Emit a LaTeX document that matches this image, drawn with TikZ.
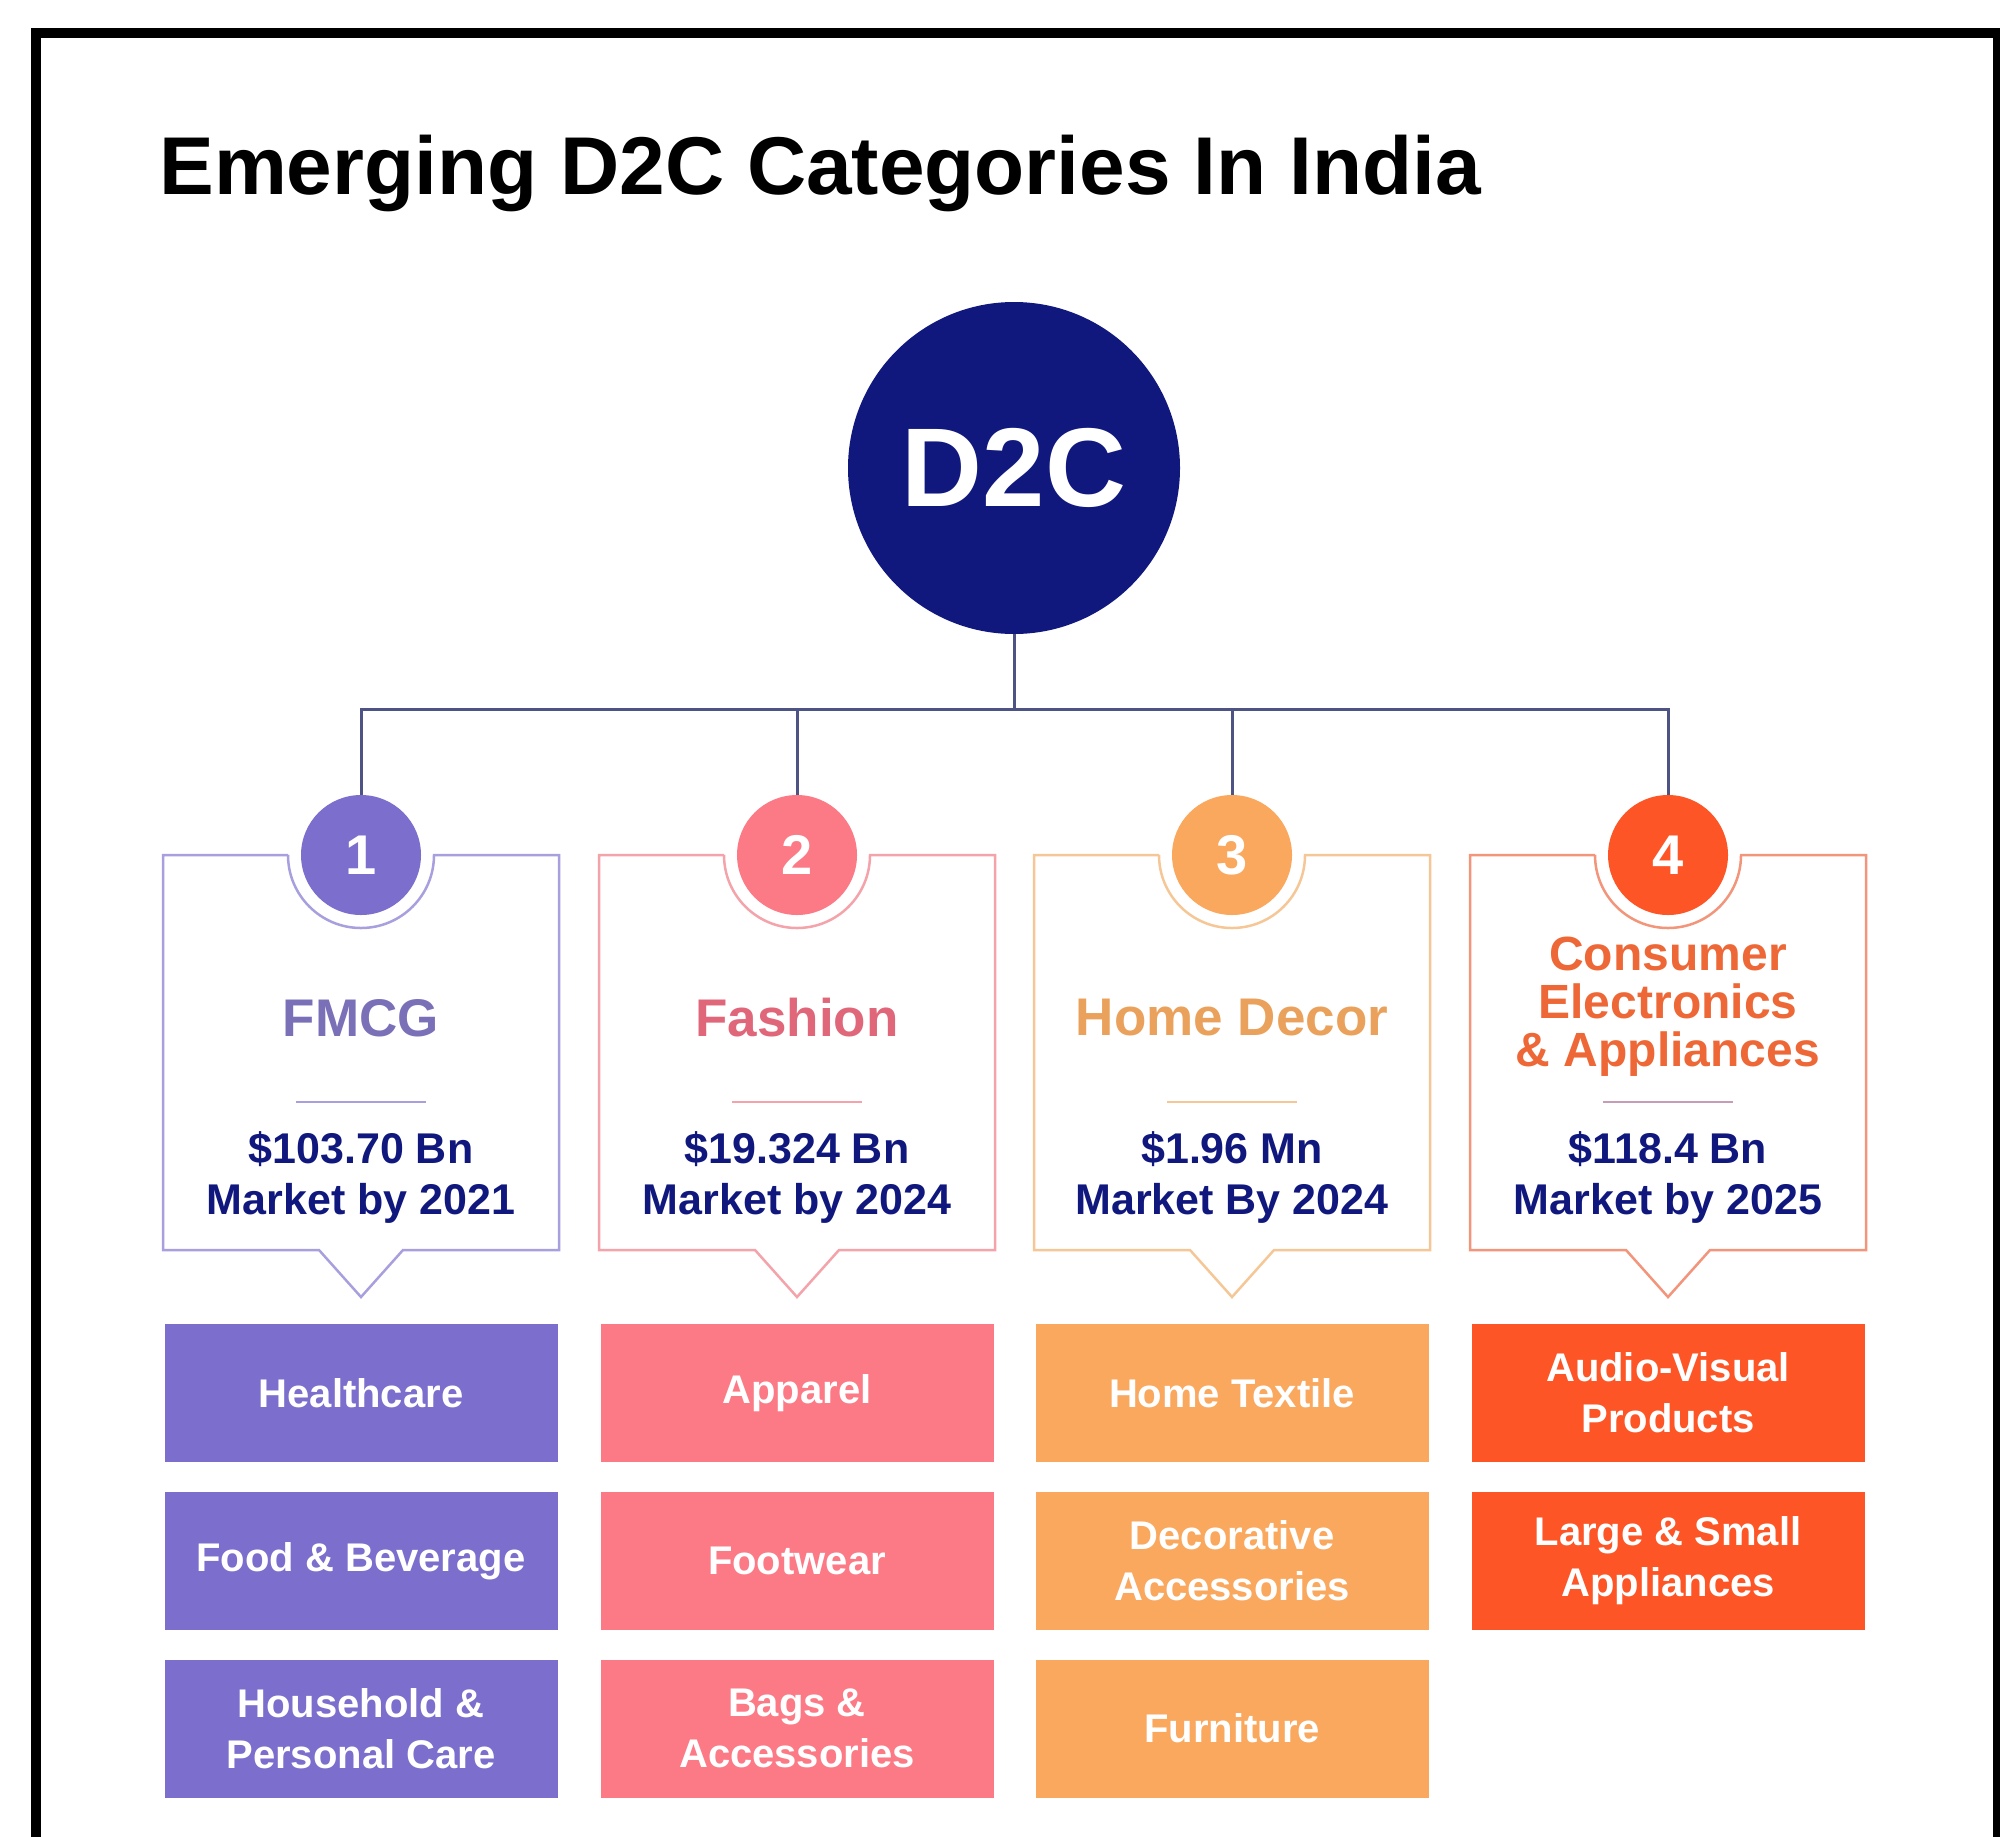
\documentclass[tikz,border=0pt]{standalone}
\usepackage{fontspec}
\setmainfont{Liberation Sans}
\usetikzlibrary{positioning}
\definecolor{navy}{HTML}{10187E}
\definecolor{wirecol}{HTML}{4D5382}
\definecolor{fmcg}{HTML}{7B6ECC}
\definecolor{fmcgtext}{HTML}{7A70B8}
\definecolor{fmcgline}{HTML}{A8A0DE}
\definecolor{fashion}{HTML}{FC7A86}
\definecolor{fashiontext}{HTML}{E06679}
\definecolor{fashionline}{HTML}{F4A3AB}
\definecolor{decor}{HTML}{F9A85E}
\definecolor{decortext}{HTML}{E9A15B}
\definecolor{decorline}{HTML}{F6C796}
\definecolor{elec}{HTML}{FD5526}
\definecolor{electext}{HTML}{EE6736}
\definecolor{elecline}{HTML}{F2957A}

\begin{document}
\begin{tikzpicture}[x=0.5pt,y=0.5pt,node distance=14.5pt,
  sub/.style={minimum width=196.5pt,minimum height=69pt,inner sep=0pt,align=center,text=white,font=\bfseries\fontsize{20}{25.5}\selectfont},
  num/.style={circle,minimum size=60pt,inner sep=0pt,text=white,font=\bfseries\fontsize{28}{28}\selectfont},
  cat/.style={align=center,font=\bfseries\fontsize{26.5}{24}\selectfont},
  val/.style={align=center,text=navy,font=\bfseries\fontsize{21.5}{25.5}\selectfont},
  wire/.style={draw=wirecol,line width=1.5pt},
  card/.style={line width=1.25pt}]
\useasboundingbox (0,0) rectangle (2000,-1836);
\draw[line width=5pt] (36,-1850) -- (36,-33) -- (1998,-33) -- (1998,-1850);

\node[anchor=base west,inner sep=0pt,font=\bfseries\fontsize{41}{41}\selectfont] (title) at (159,-194) {Emerging D2C Categories In India};
\node[circle,fill=navy,minimum size=166pt,inner sep=0pt,text=white,font=\bfseries\fontsize{56}{56}\selectfont] (d2c) at (1014,-468) {D2C};

% cards
\draw[card,draw=fmcgline] (361,-855) ++(-73,0) -- ++(-125,0) -- ++(0,-395) -- ++(156,0) -- ++(42,-47) -- ++(42,47) -- ++(156,0) -- ++(0,395) -- ++(-125,0) arc[start angle=0,end angle=-180,radius=73];
\draw[card,draw=fashionline] (797,-855) ++(-73,0) -- ++(-125,0) -- ++(0,-395) -- ++(156,0) -- ++(42,-47) -- ++(42,47) -- ++(156,0) -- ++(0,395) -- ++(-125,0) arc[start angle=0,end angle=-180,radius=73];
\draw[card,draw=decorline] (1232,-855) ++(-73,0) -- ++(-125,0) -- ++(0,-395) -- ++(156,0) -- ++(42,-47) -- ++(42,47) -- ++(156,0) -- ++(0,395) -- ++(-125,0) arc[start angle=0,end angle=-180,radius=73];
\draw[card,draw=elecline] (1668,-855) ++(-73,0) -- ++(-125,0) -- ++(0,-395) -- ++(156,0) -- ++(42,-47) -- ++(42,47) -- ++(156,0) -- ++(0,395) -- ++(-125,0) arc[start angle=0,end angle=-180,radius=73];

\node[num,fill=fmcg] (n1) at (361,-855) {1};
\node[num,fill=fashion] (n2) at (797,-855) {2};
\node[num,fill=decor] (n3) at (1232,-855) {3};
\node[num,fill=elec] (n4) at (1668,-855) {4};

\draw[wire] (d2c.south) -- ++(0,-75) coordinate (bus);
\draw[wire] (n1) |- (bus) -| (n4);
\draw[wire] (n2) -- (n2 |- bus);
\draw[wire] (n3) -- (n3 |- bus);

\node[cat,text=fmcgtext] (c1) at (361,-1018) {FMCG};
\node[cat,text=fashiontext] (c2) at (797,-1018) {Fashion};
\node[cat,text=decortext] (c3) at (1232,-1018) {Home Decor};
\node[cat,text=electext,font=\bfseries\fontsize{24}{24}\selectfont] (c4) at (1668,-1007) {Consumer\\Electronics\\\& Appliances};

\draw[fmcgline,line width=1pt] (296,-1102) -- (426,-1102);
\draw[fashionline,line width=1pt] (732,-1102) -- (862,-1102);
\draw[decorline,line width=1pt] (1167,-1102) -- (1297,-1102);
\draw[fmcgline!60!elecline,line width=1pt] (1603,-1102) -- (1733,-1102);

\node[val] (v1) at (361,-1177) {\$103.70 Bn\\Market by 2021};
\node[val] (v2) at (797,-1177) {\$19.324 Bn\\Market by 2024};
\node[val] (v3) at (1232,-1177) {\$1.96 Mn\\Market By 2024};
\node[val] (v4) at (1668,-1177) {\$118.4 Bn\\Market by 2025};

% sub-categories
\node[sub,fill=fmcg] (f1) at (361,-1393) {Healthcare};
\node[sub,fill=fmcg,below=of f1] (f2) {Food \& Beverage};
\node[sub,fill=fmcg,below=of f2] (f3) {Household \&\\Personal Care};
\node[sub,fill=fashion] (s1) at (797,-1393) {Apparel};
\node[sub,fill=fashion,below=of s1] (s2) {Footwear};
\node[sub,fill=fashion,below=of s2] (s3) {Bags \&\\Accessories};
\node[sub,fill=decor] (h1) at (1232,-1393) {Home Textile};
\node[sub,fill=decor,below=of h1] (h2) {Decorative\\Accessories};
\node[sub,fill=decor,below=of h2] (h3) {Furniture};
\node[sub,fill=elec] (e1) at (1668,-1393) {Audio-Visual\\Products};
\node[sub,fill=elec,below=of e1] (e2) {Large \& Small\\Appliances};
\end{tikzpicture}
\end{document}
